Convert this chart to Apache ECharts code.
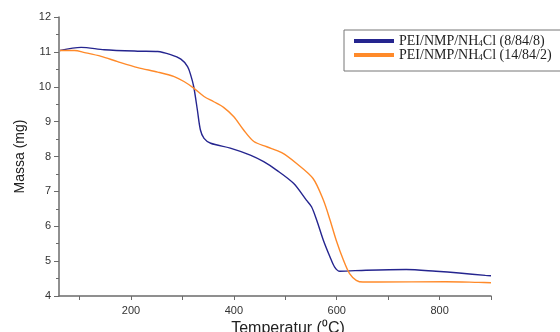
<!DOCTYPE html>
<html>
<head>
<meta charset="utf-8">
<script src="https://cdn.jsdelivr.net/npm/echarts@6/dist/echarts.min.js"></script>
<style>
  html, body { margin: 0; padding: 0; background: #fff; }
  #chart { width: 560px; height: 332px; }
</style>
</head>
<body>
<div id="chart"></div>
<script>
// data
var seriesNames = ['PEI/NMP/NH4Cl (8/84/8)', 'PEI/NMP/NH4Cl (14/84/2)'];
var blueTemp = [62, 103, 148, 213, 252, 277, 297, 310, 316, 322, 329, 335, 342, 355, 393, 432, 458, 483, 516, 541, 551, 561, 574, 587, 596, 606, 657, 735, 793, 838, 889, 900];
var blueMass = [11.04, 11.13, 11.06, 11.02, 11.01, 10.92, 10.79, 10.58, 10.34, 10.0, 9.34, 8.76, 8.52, 8.38, 8.24, 8.04, 7.85, 7.61, 7.23, 6.75, 6.56, 6.18, 5.60, 5.12, 4.83, 4.71, 4.74, 4.76, 4.71, 4.66, 4.59, 4.58];
var orangeTemp = [62, 90, 110, 142, 174, 213, 252, 284, 303, 322, 342, 361, 380, 400, 419, 439, 464, 493, 522, 554, 574, 587, 599, 613, 625, 638, 651, 680, 812, 876, 900];
var orangeMass = [11.04, 11.04, 10.98, 10.87, 10.72, 10.55, 10.42, 10.29, 10.15, 9.96, 9.72, 9.57, 9.41, 9.14, 8.76, 8.43, 8.28, 8.11, 7.80, 7.37, 6.75, 6.18, 5.60, 5.03, 4.64, 4.45, 4.40, 4.40, 4.41, 4.39, 4.38];
var xTicks = [100, 200, 300, 400, 500, 600, 700, 800, 900];
var xLabels = [200, 400, 600, 800];

var colors = ['#25258f', '#ff8a2a'];

function zip(a, b) {
  return a.map(function (v, i) { return [v, b[i]]; });
}

var chart = echarts.init(document.getElementById('chart'));
var axisGray = '#6b6b6b';

chart.setOption({
  animation: false,
  grid: { left: 59, right: 69, top: 17, bottom: 36, containLabel: false, outerBoundsMode: 'none' },
  legend: {
    orient: 'vertical',
    left: 344,
    top: 30,
    padding: [4, 14, 9, 10],
    borderColor: '#777',
    borderWidth: 1,
    itemWidth: 40,
    itemHeight: 4,
    itemGap: 0,
    icon: 'rect',
    data: seriesNames,
    formatter: function (name) {
      var parts = name.split('NH4');
      return '{a|' + parts[0] + 'NH}{s|4}{a|' + parts[1] + '}';
    },
    textStyle: {
      rich: {
        a: { fontFamily: 'Liberation Serif', fontSize: 14, color: '#222', lineHeight: 15 },
        s: { fontFamily: 'Liberation Serif', fontSize: 9, color: '#222', lineHeight: 15, padding: [5, 0, 0, 0] }
      }
    }
  },
  xAxis: {
    type: 'value',
    min: 60,
    max: 900,
    name: 'Temperatur (\u2070C)',
    nameLocation: 'middle',
    nameGap: 23,
    nameTextStyle: { fontFamily: 'Liberation Sans', fontSize: 16, color: '#222', padding: [0, 0, 0, 26] },
    splitLine: { show: false },
    axisLine: { lineStyle: { color: axisGray, width: 1.5 } },
    axisTick: { show: true, inside: false, length: 4, customValues: xTicks, lineStyle: { color: axisGray } },
    axisLabel: {
      fontFamily: 'Liberation Sans',
      fontSize: 11,
      color: '#333',
      margin: 9,
      customValues: xLabels
    }
  },
  yAxis: {
    type: 'value',
    min: 4,
    max: 12,
    interval: 1,
    name: 'Massa (mg)',
    nameLocation: 'middle',
    nameGap: 32,
    nameTextStyle: { fontFamily: 'Liberation Sans', fontSize: 14, color: '#222' },
    splitLine: { show: false },
    axisLine: { show: true, lineStyle: { color: axisGray, width: 1.5 } },
    axisTick: { show: true, length: 5, lineStyle: { color: axisGray } },
    minorTick: { show: true, splitNumber: 2, length: 3, lineStyle: { color: axisGray } },
    axisLabel: { fontFamily: 'Liberation Sans', fontSize: 11, color: '#333', margin: 8 }
  },
  series: [
    {
      name: seriesNames[0],
      type: 'line',
      data: zip(blueTemp, blueMass),
      showSymbol: false,
      smooth: 0.3,
      color: colors[0],
      lineStyle: { width: 1.4, color: colors[0] }
    },
    {
      name: seriesNames[1],
      type: 'line',
      data: zip(orangeTemp, orangeMass),
      showSymbol: false,
      smooth: 0.3,
      color: colors[1],
      lineStyle: { width: 1.4, color: colors[1] }
    }
  ]
});
</script>
</body>
</html>
